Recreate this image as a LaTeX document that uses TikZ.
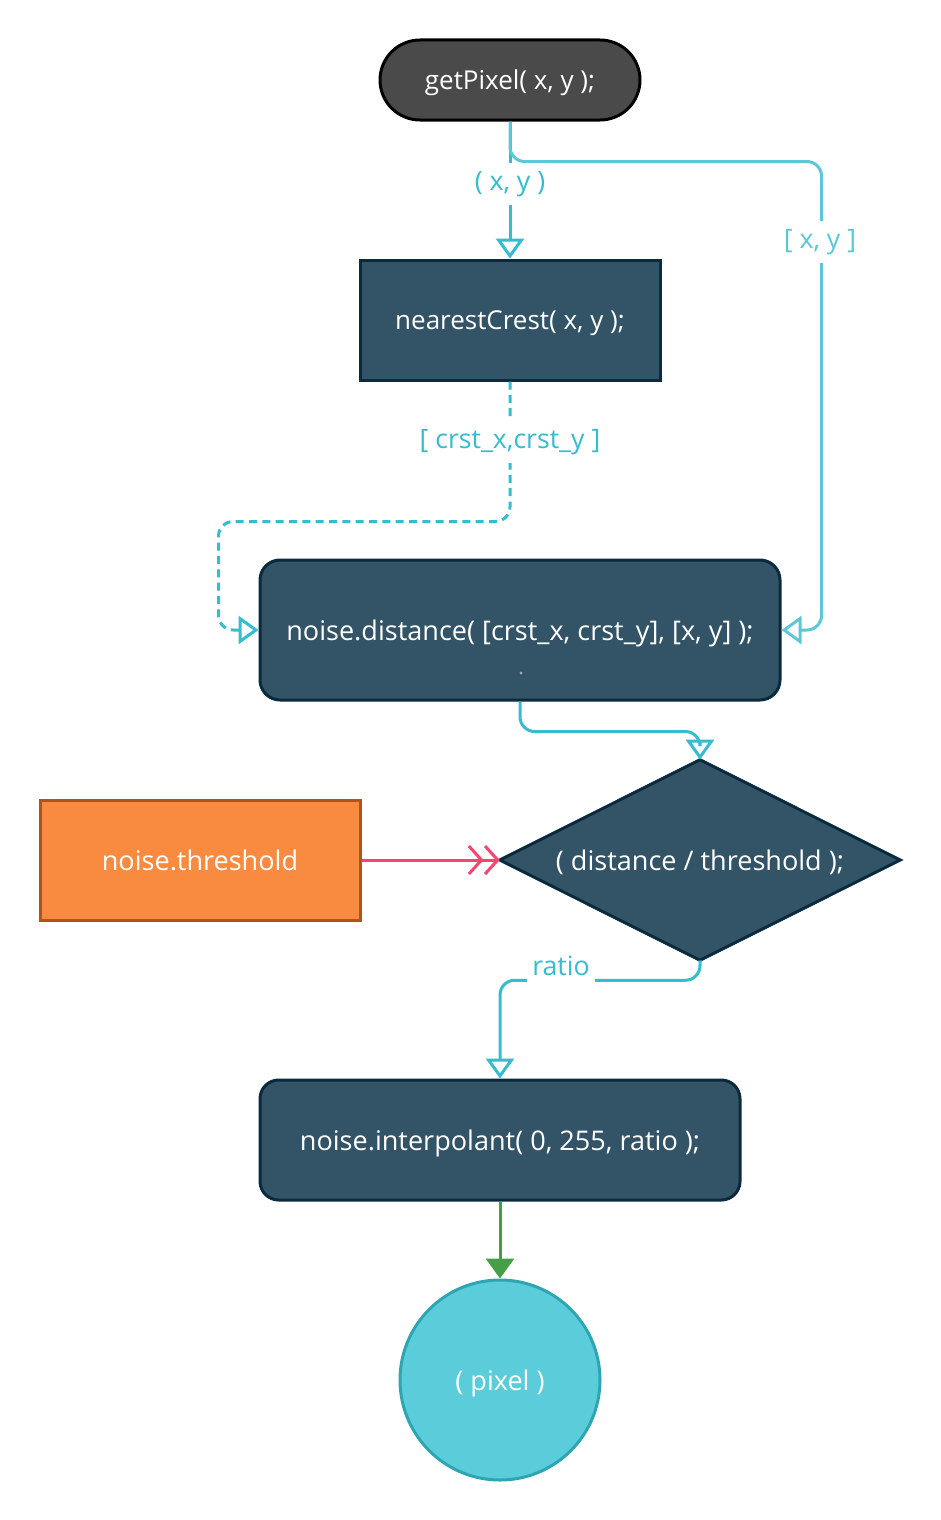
\documentclass[tikz,border=0pt]{standalone}
\usepackage{fontspec}
\setmainfont{Open Sans}
\usetikzlibrary{arrows.meta,calc}
\definecolor{darkfill}{HTML}{335367}
\definecolor{darkedge}{HTML}{0B2A3D}
\definecolor{gpfill}{HTML}{4A4A4A}
\definecolor{cyanline}{HTML}{35BCCF}
\definecolor{cyanlight}{HTML}{5CC8D6}
\definecolor{pinkline}{HTML}{F54570}
\definecolor{orangefill}{HTML}{F98B40}
\definecolor{orangeedge}{HTML}{B2531D}
\definecolor{greenline}{HTML}{43A047}
\definecolor{circfill}{HTML}{5BCDDA}
\definecolor{circedge}{HTML}{2EA5B3}
\tikzset{
  nodetext/.style={text=white, font=\fontsize{20.3pt}{24pt}\selectfont, inner sep=0pt, text depth=0pt},
  smalltext/.style={font=\fontsize{19.5pt}{23pt}\selectfont},
  darkbox/.style={nodetext, draw=darkedge, fill=darkfill, line width=2.25pt},
  lbl/.style={fill=white, font=\fontsize{20pt}{24pt}\selectfont, inner xsep=4pt, inner ysep=6pt},
  conn/.style={draw=cyanline, line width=2.25pt, rounded corners=11pt,
     -{Triangle[open, length=15pt, width=21pt, line width=2.25pt]}},
  barb/.style={-{Straight Barb[length=9.5pt, width=21pt, line width=2.25pt] Straight Barb[length=9.5pt, width=21pt, line width=2.25pt]}},
}
\begin{document}
\begin{tikzpicture}[x=0.75pt, y=-0.75pt]
\fill[white] (0,0) rectangle (940,1520);
\useasboundingbox (0,0) rectangle (940,1520);

% nodes
\node[nodetext, smalltext, draw=black, fill=gpfill, line width=2.25pt, rounded corners=30pt,
      minimum width=195pt, minimum height=60pt] (gp) at (510,80) {getPixel( x, y );};
\node[darkbox, smalltext, minimum width=225pt, minimum height=90pt] (nc) at (510,320) {nearestCrest( x, y );};
\node[darkbox, rounded corners=15pt, minimum width=390pt, minimum height=105pt] (dist) at (520,630)
   {noise.distance( [crst\_x, crst\_y], [x, y] );};
\fill[gray!70] (521,673) circle (1.2pt);
\node[minimum width=300pt, minimum height=150pt, inner sep=0pt] (dm) at (700,860) {};
\draw[darkedge, fill=darkfill, line width=2.25pt, line join=miter]
   (dm.north) -- (dm.east) -- (dm.south) -- (dm.west) -- cycle;
\node[nodetext] (dmt) at (dm.center) {( distance / threshold );};
\node[nodetext, draw=orangeedge, fill=orangefill, line width=2.25pt,
      minimum width=240pt, minimum height=90pt] (th) at (200,860) {noise.threshold};
\node[darkbox, rounded corners=14pt, minimum width=360pt, minimum height=90pt] (ip) at (500,1140)
   {noise.interpolant( 0, 255, ratio );};
\node[nodetext, circle, draw=circedge, fill=circfill, line width=2.25pt,
      minimum size=150pt] (px) at (500,1380) {( pixel )};

% connectors
\draw[conn] (gp.south) -- (nc.north);
\draw[conn, draw=cyanlight] (gp.south) -- ++(0,40) -| ($(dist.east)+(40,0)$) -- (dist.east);
\draw[conn, dashed, dash pattern=on 6pt off 4pt] (nc.south) -- ++(0,140) -| ($(dist.west)+(-40,0)$)
   -- (dist.west);
\draw[conn] (dist.south) -- ++(0,30) -| (dm.north);
\draw[conn] (dm.south) -- ++(0,20) -| (ip.north);
\draw[draw=pinkline, line width=2.25pt, barb] (th.east) -- (dm.west);
\draw[draw=greenline, line width=2.25pt, -{Triangle[length=15pt, width=21pt]}] (ip.south) -- (px.north);

% labels
\node[lbl, text=cyanline] (l1) at (510,184) {( x, y )};
\node[lbl, text=cyanlight] (l2) at (820,242) {[ x, y ]};
\node[lbl, text=cyanline] (l3) at (510,442) {[ crst\_x,crst\_y ]};
\node[lbl, text=cyanline, inner ysep=8pt] (l4) at (561,966) {ratio};
\end{tikzpicture}
\end{document}
